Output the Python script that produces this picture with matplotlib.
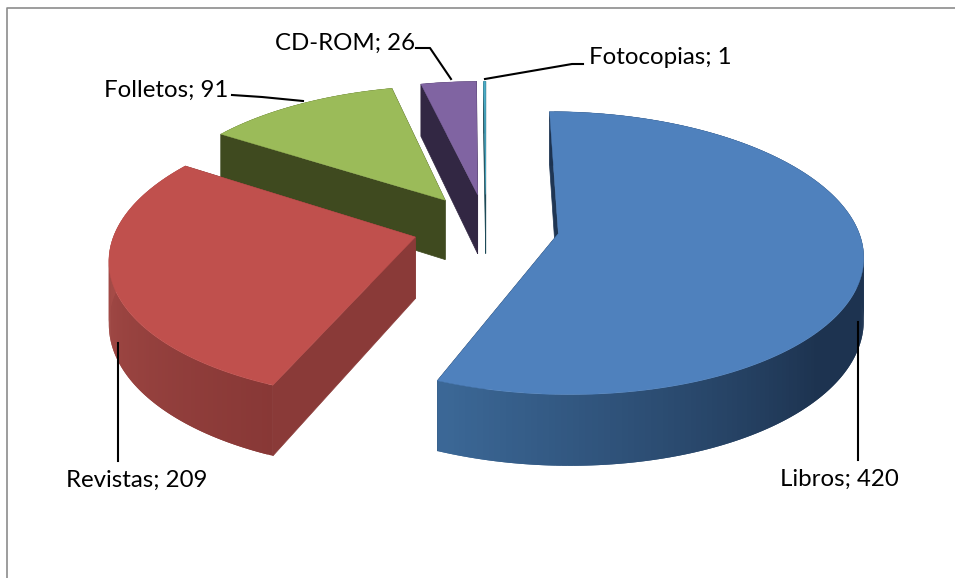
import numpy as np
import matplotlib
matplotlib.use("Agg")
import matplotlib.pyplot as plt
from matplotlib.patches import Polygon

# data
categories = ["Libros", "Revistas", "Folletos", "CD-ROM", "Fotocopias"]
values = [420, 209, 91, 26, 1]

top_colors = ["#4f81bd", "#c0504d", "#9bbb59", "#8064a2", "#4bacc6"]
wall_colors = ["#1f3654", "#8a3a38", "#3f4a1f", "#322743", "#1d4a57"]
rim_light = ["#3b6796", "#a64c48", "#3f4a1f", "#322743", "#1d4a57"]
rim_dark = ["#1d3350", "#883836", "#3f4a1f", "#322743", "#1d4a57"]

# label text position (px) and leader line points (px)
label_pos = [(780, 479), (66, 480), (104, 90), (275, 43), (589, 57)]
leaders = [
    [(858, 322), (858, 460)],
    [(118, 343), (118, 461)],
    [(232, 95), (262, 97), (303, 101)],
    [(416, 48), (430, 48), (451, 79)],
    [(485, 79), (572, 64), (583, 64)],
]

# fake perspective for the 3d pie
cx, cy = 486, 227
rx, ry = 299, 137
persp = 0.137
depth = 61
explode = 0.245


def project(u, v, z=0.0):
    w = 1 + persp * v
    return np.column_stack([cx + rx * u / w, cy - ry * v / w + z * depth / w])


fig = plt.figure(figsize=(9.55, 5.78), dpi=100)
ax = fig.add_axes([0, 0, 1, 1])
ax.set_xlim(0, 955)
ax.set_ylim(578, 0)
ax.axis("off")

# chart border, only left and top are in the crop
ax.plot([6.5, 6.5, 955], [578, 7.5, 7.5], color="#8c8c8c", lw=1.2)

total = sum(values)
starts = np.cumsum([0] + values[:-1]) / total * 2 * np.pi
spans = np.array(values) / total * 2 * np.pi

# back slices first
for i in [4, 3, 2, 1, 0]:
    a0, a1 = starts[i], starts[i] + spans[i]
    mid = (a0 + a1) / 2
    ou, ov = explode * np.sin(mid), explode * np.cos(mid)
    th = np.linspace(a0, a1, max(int(np.degrees(spans[i])), 2) + 1)
    u = ou + np.sin(th)
    v = ov + np.cos(th)
    ua = np.array([ou])
    va = np.array([ov])

    # radial walls
    for a in (a0, a1):
        eu = np.array([ou + np.sin(a)])
        ev = np.array([ov + np.cos(a)])
        wall = np.vstack([project(ua, va), project(eu, ev), project(eu, ev, 1), project(ua, va, 1)])
        ax.add_patch(Polygon(wall, fc=wall_colors[i], ec=wall_colors[i], lw=0.5, zorder=2 + (4 - i) * 3))

    # outer rim, shaded strip by strip; strips overlap so no seams show
    p0 = project(u, v)
    p1 = project(u, v, 1)
    light = np.array(matplotlib.colors.to_rgb(rim_light[i]))
    dark = np.array(matplotlib.colors.to_rgb(rim_dark[i]))
    n = len(th)
    for j in range(n - 1):
        # lightest towards the lower left, dark by the front right
        if i == 0:
            t = np.clip((np.degrees(th[j]) - 130) / 70, 0, 1)
        else:
            t = np.clip((np.degrees(th[j]) - 202) / 70, 0, 1)
        col = dark + (light - dark) * t
        end = min(j + 2, n - 1)
        quad = np.vstack([p0[j:end + 1], p1[j:end + 1][::-1]])
        ax.add_patch(Polygon(quad, fc=col, ec="none", zorder=3 + (4 - i) * 3))

    # top face
    top = np.vstack([project(ua, va), p0])
    ax.add_patch(Polygon(top, fc=top_colors[i], ec=top_colors[i], lw=0.3, zorder=4 + (4 - i) * 3))

for name, val, pos, pts in zip(categories, values, label_pos, leaders):
    xs, ys = zip(*pts)
    ax.plot(xs, ys, color="black", lw=1.5, zorder=30)
    ax.text(pos[0], pos[1], f"{name}; {val}", family="Lato", fontsize=17.3, color="black",
            ha="left", va="center", zorder=31)

fig.savefig("out.png", dpi=100)
